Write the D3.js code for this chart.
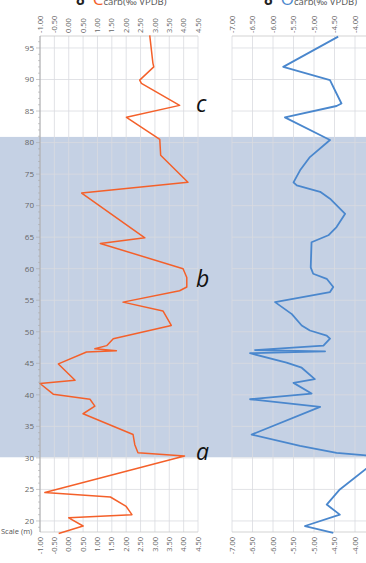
<!DOCTYPE html>
<html>
<head>
<meta charset="utf-8">
<script src="https://cdn.jsdelivr.net/npm/d3@7"></script>
<style>
  body { margin: 0; background: #fff; }
  svg { display: block; font-family: "Open Sans", sans-serif; }
</style>
</head>
<body>
<div id="chart"></div>
<script>
// depth (m) and isotope values
var depthC = [97, 92.6, 92, 89.9, 89.4, 85.9, 84, 80.5, 78, 73.7, 72, 64.9, 64, 60, 58.6, 57.1, 56.5, 54.7, 53.3, 51,
              48.9, 47.8, 47.3, 47.0, 46.8, 44.9, 42.3, 41.8, 40.1, 39.3, 38.2, 37, 33.7, 32.1, 30.8, 30.3,
              24.5, 23.8, 22.3, 21.0, 20.5, 19.2, 18.0];
var d13C   = [2.82, 2.93, 2.96, 2.47, 2.53, 3.86, 2.01, 3.17, 3.2, 4.15, 0.45, 2.65, 1.1, 3.98, 4.11, 4.11, 3.86, 1.89, 3.28, 3.57,
              1.55, 1.32, 0.91, 1.66, 0.62, -0.36, 0.22, -1.0, -0.54, 0.74, 0.91, 0.5, 2.24, 2.3, 2.41, 4.03,
              -0.83, 1.45, 2.0, 2.2, 0.0, 0.5, -0.35];

var depthO = [96.8, 92, 89.9, 88.3, 86.2, 85.8, 84, 80.4, 77.7, 75.6, 73.7, 73.2, 72.2, 71.1, 68.7, 66.6, 65.3, 64.2,
              60.2, 59.2, 58.4, 57.1, 56.3, 54.7, 52.8, 51, 50.2, 49.4, 48.9, 47.8, 47.1, 46.9, 46.6, 45.1, 44.3,
              42.5, 41.9, 40.2, 39.3, 38.1, 33.7, 31.9, 30.8, 30.2, 25, 22.6, 21, 19.2, 18.1];
var d18O   = [-4.41, -5.75, -4.61, -4.49, -4.33, -4.45, -5.71, -4.61, -5.1, -5.34, -5.5, -5.42, -4.85, -4.61, -4.24, -4.45, -4.65, -5.06,
              -5.08, -5.02, -4.69, -4.53, -4.61, -5.95, -5.54, -5.3, -5.1, -4.69, -4.61, -4.77, -6.44, -4.73, -6.56, -5.67, -5.3,
              -4.98, -5.5, -5.06, -6.56, -4.85, -6.52, -5.34, -4.45, -3.35, -4.37, -4.69, -4.37, -5.22, -4.53];

var ticksC = [-1, -0.5, 0, 0.5, 1, 1.5, 2, 2.5, 3, 3.5, 4, 4.5];
var ticksO = [-7, -6.5, -6, -5.5, -5, -4.5, -4, -3.5, -3];
var depthTicks = [20, 25, 30, 35, 40, 45, 50, 55, 60, 65, 70, 75, 80, 85, 90, 95];

var zone = [30.1, 80.9];          // shaded interval (m)
var zoneNames = ["a", "b", "c"];
var zoneNameDepths = [29.7, 57.1, 84.9];

var W = 366, H = 563;
var svg = d3.select("#chart").append("svg").attr("width", W).attr("height", H);

var y = d3.scaleLinear().domain([18.25, 96.9]).range([532, 36]);
var xC = d3.scaleLinear().domain([-1, 4.5]).range([40, 198]);
var xO = d3.scaleLinear().domain([-7, -3]).range([232, 396]);

var fmt = function(v){ return v.toFixed(2); };

// shaded band across the whole figure
svg.append("rect")
    .attr("x", 0).attr("width", W)
    .attr("y", y(zone[1])).attr("height", y(zone[0]) - y(zone[1]))
    .attr("fill", "#c5d1e4");

function panel(x, ticks, values, depths, color, sw){
  var g = svg.append("g");
  var x0 = x.range()[0], x1 = x.range()[1];
  // only label ticks that fall inside the picture
  var shown = ticks.filter(function(d){ return x(d) < W - 6; });

  g.selectAll(".vg").data(ticks).enter().append("line")
      .attr("x1", x).attr("x2", x)
      .attr("y1", y.range()[1]).attr("y2", y.range()[0])
      .attr("stroke", "#d9dbe0").attr("stroke-width", 0.8);

  g.selectAll(".hg").data(depthTicks).enter().append("line")
      .attr("x1", x0).attr("x2", x1)
      .attr("y1", y).attr("y2", y)
      .attr("stroke", "#d9dbe0").attr("stroke-width", 0.8);

  // frame top / bottom
  g.selectAll(".fr").data(y.range()).enter().append("line")
      .attr("x1", x0).attr("x2", x1)
      .attr("y1", function(d){ return d; }).attr("y2", function(d){ return d; })
      .attr("stroke", "#c8c8c8").attr("stroke-width", 0.8);

  g.selectAll(".tt").data(shown).enter().append("text")
      .attr("transform", function(d){ return "translate(" + x(d) + ",33) rotate(-90)"; })
      .attr("dy", "0.35em")
      .attr("text-anchor", "start")
      .attr("font-size", 7.5).attr("fill", "#666")
      .text(fmt);

  g.selectAll(".tb").data(shown).enter().append("text")
      .attr("transform", function(d){ return "translate(" + x(d) + ",537) rotate(-90)"; })
      .attr("dy", "0.35em")
      .attr("text-anchor", "end")
      .attr("font-size", 7.5).attr("fill", "#666")
      .text(fmt);

  var line = d3.line()
      .x(function(d, i){ return x(d); })
      .y(function(d, i){ return y(depths[i]); });

  g.append("path")
      .datum(values)
      .attr("d", line)
      .attr("fill", "none")
      .attr("stroke", color)
      .attr("stroke-width", sw)
      .attr("stroke-linejoin", "round");
}

panel(xC, ticksC, d13C, depthC, "#f4602a", 1.5);
panel(xO, ticksO, d18O, depthO, "#4a87cd", 1.8);

// depth axis
var ax = svg.append("g");
ax.append("line")
    .attr("x1", 40).attr("x2", 40)
    .attr("y1", y.range()[1]).attr("y2", y.range()[0])
    .attr("stroke", "#999").attr("stroke-width", 0.8);
ax.selectAll(".mt").data(d3.range(19, 97)).enter().append("line")
    .attr("x1", function(d){ return d % 5 == 0 ? 36 : 38; }).attr("x2", 40)
    .attr("y1", y).attr("y2", y)
    .attr("stroke", "#aaa").attr("stroke-width", 0.6);
ax.selectAll(".yl").data(depthTicks).enter().append("text")
    .attr("x", 34).attr("y", y)
    .attr("dy", "0.35em")
    .attr("text-anchor", "end")
    .attr("font-size", 8).attr("fill", "#666")
    .text(function(d){ return d; });
ax.append("text")
    .attr("x", 1).attr("y", 534)
    .attr("font-size", 7.5).attr("fill", "#555")
    .text("Scale (m)");

// zone letters
svg.selectAll(".zn").data(zoneNames).enter().append("text")
    .attr("x", 196)
    .attr("y", function(d, i){ return y(zoneNameDepths[i]); })
    .attr("font-size", 23)
    .attr("font-style", "italic")
    .attr("fill", "#111")
    .text(function(d){ return d; });

// titles (partly cut by the top edge, as in the source figure)
function title(xPos, sup, letter, color){
  var t = svg.append("text").attr("x", xPos).attr("y", 5);
  t.append("tspan").attr("font-size", 14).attr("font-weight", "bold").attr("fill", "#222").text("\u03b4");
  t.append("tspan").attr("font-size", 7).attr("dy", -8).attr("fill", "#222").text(sup);
  t.append("tspan").attr("font-size", 17).attr("dy", 8).attr("fill", color).text(letter);
  t.append("tspan").attr("font-size", 9.5).attr("fill", "#555").text("carb(\u2030 VPDB)");
}
title(76, "13", "C", "#f4602a");
title(264, "18", "O", "#4a87cd");
</script>
</body>
</html>
